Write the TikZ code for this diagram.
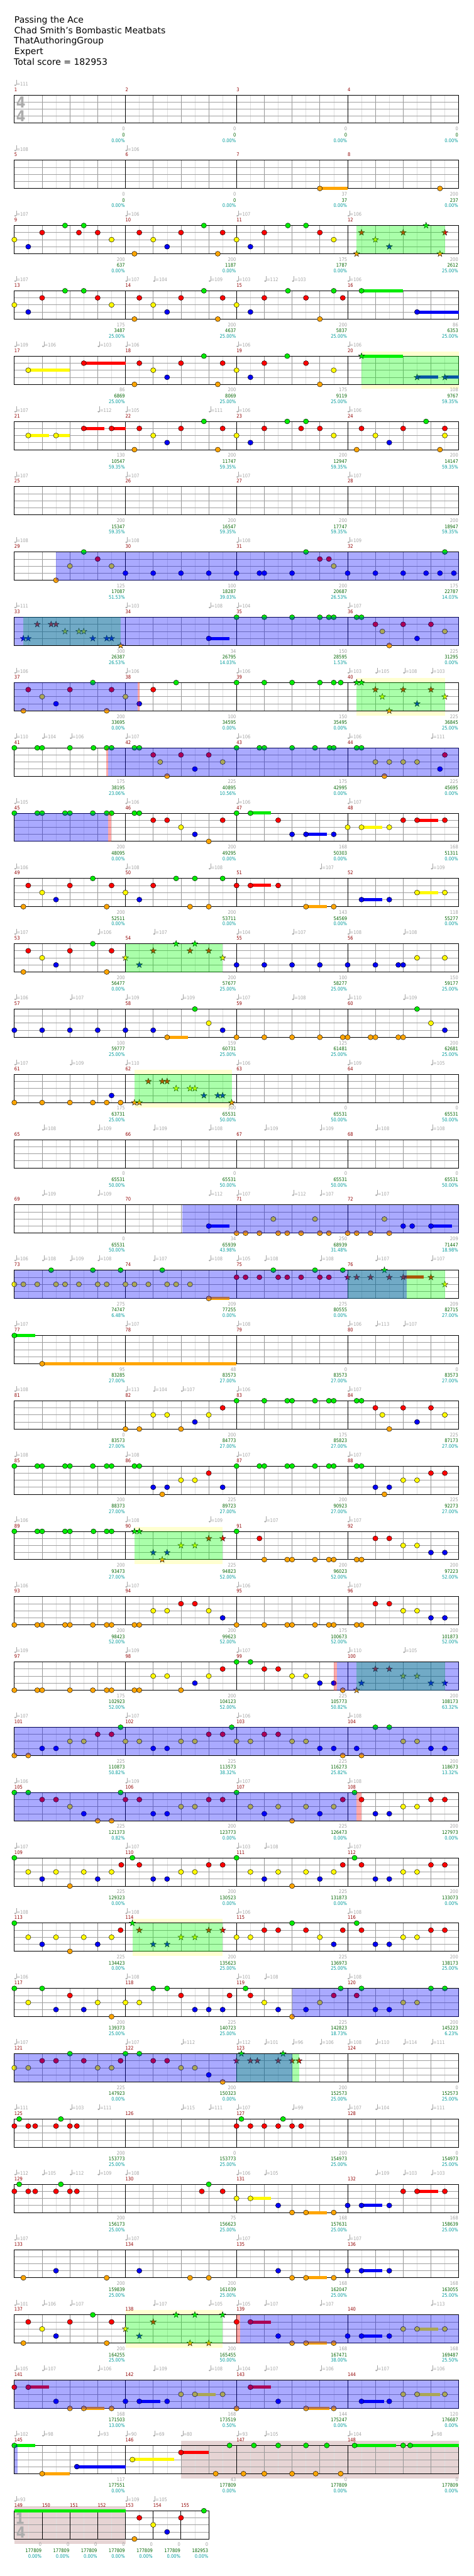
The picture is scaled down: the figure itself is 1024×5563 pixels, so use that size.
\documentclass[tikz,border=0pt]{standalone}
\usepackage{fontspec}
\setmainfont{DejaVu Sans}
\newfontfamily\condf[FakeStretch=0.87]{DejaVu Sans}
\usepackage{tikz}
\definecolor{lane0}{RGB}{0,235,0}
\definecolor{lane1}{RGB}{255,0,0}
\definecolor{lane2}{RGB}{255,250,0}
\definecolor{lane3}{RGB}{0,0,245}
\definecolor{lane4}{RGB}{255,165,0}
\definecolor{gridsub}{RGB}{222,222,222}
\definecolor{gridbeat}{RGB}{150,150,150}
\definecolor{gridlane}{RGB}{160,160,160}
\definecolor{tempogray}{RGB}{165,165,165}
\definecolor{measred}{RGB}{145,0,0}
\definecolor{scgray}{RGB}{160,160,160}
\definecolor{scgreen}{RGB}{0,100,0}
\definecolor{sccyan}{RGB}{0,155,155}
\definecolor{paley}{RGB}{255,255,208}
\definecolor{rose}{RGB}{230,212,212}
\definecolor{tsgray}{RGB}{172,172,172}
\tikzset{
  note/.style={fill=#1,draw=black,line width=0.6pt},
  subline/.style={draw=gridsub,line width=0.8pt},
  beatline/.style={draw=gridbeat,line width=0.8pt},
  laneline/.style={draw=gridlane,line width=1pt},
  barline/.style={draw=black,line width=1.1pt},
  smalltext/.style={font=\condf\fontsize{10.5}{12}\selectfont,inner sep=0pt},
  tempo/.style={smalltext,text=tempogray,anchor=base west},
  measnum/.style={smalltext,text=measred,anchor=base west},
  scrow/.style={smalltext,anchor=base east},
  headtext/.style={font=\fontsize{19}{23}\selectfont,inner sep=0pt,anchor=base west},
  tsig/.style={font=\condf\bfseries\fontsize{33}{33}\selectfont,text=tsgray,inner sep=0pt},
  overdrive/.style={fill=blue,fill opacity=0.333},
  phrase/.style={fill=green,fill opacity=0.333},
  fillgap/.style={fill=red,fill opacity=0.333}
}
% one row of the chart, origin at the top left of the staff
\newcommand\chartrow[2]{\def\currow{#1}%
  \begin{scope}[shift={(31,{205+141*#1})}]#2\end{scope}}
\newcommand\staffgrid{%
  \foreach \i in {0,...,15} \draw[subline] ({60*\i+30},0) -- ++(0,61);
  \foreach \i in {1,...,15} \draw[beatline] ({60*\i},0) -- ++(0,61);
  \foreach \l in {1,2,3} \draw[laneline] (0,{15.25*\l}) -- (960,{15.25*\l});
  \foreach \i in {1,2,3} \draw[barline] ({240*\i},0) -- ++(0,61);
  \draw[barline] (0,0) rectangle (960,61);
  \foreach \k in {0,...,3}{\pgfmathtruncatemacro\mn{4*\currow+\k+1}
    \node[measnum] (m\mn) at ({240*\k},-8) {\mn};}}
\newcommand\nts[2]{\foreach \p in {#2}{\filldraw[note=lane#1] ({15*\p},{15.25*#1}) circle[x radius=5.6pt,y radius=5.4pt];}}
\newcommand\sts[2]{\foreach \p in {#2}{\filldraw[note=lane#1,line width=0.5pt] ({15*\p},{15.25*#1})
  +(90:7pt) -- +(126:2.8pt) -- +(162:7pt) -- +(198:2.8pt) -- +(234:7pt) -- +(270:2.8pt)
  -- +(306:7pt) -- +(342:2.8pt) -- +(18:7pt) -- +(54:2.8pt) -- cycle;}}
\newcommand\sus[3]{\fill[lane#1] ({15*#2},{15.25*#1-3.4}) rectangle ({15*#3},{15.25*#1+3.4});}
\newcommand\yz[2]{\fill[paley] ({15*#1},-10) rectangle ({15*#2},0);\fill[paley] ({15*#1},61) rectangle ({15*#2},71);}
\newcommand\rz[2]{\fill[rose] ({15*#1},-10) rectangle ({15*#2},71);}
\newcommand\gz[2]{\fill[phrase] ({15*#1},0) rectangle ({15*#2},61);}
\newcommand\bz[2]{\fill[overdrive] ({15*#1},0) rectangle ({15*#2},61);}
\newcommand\pz[2]{\fill[fillgap] ({15*#1},0) rectangle ({15*#2},61);}
\newcommand\tempos[1]{\foreach \p/\v in {#1}{%
  \fill[tempogray] ({15*\p+2},-21) circle[x radius=2.3pt,y radius=1.7pt];
  \draw[tempogray,line width=0.7pt] ({15*\p+4},-21) -- ({15*\p+4},-32);
  \node[tempo] (t\currow-\p) at ({15*\p+4.8},-20) {=\v};}}
\newcommand\scores[2][240]{\foreach \a/\b/\c [count=\k from 1] in {#2}{%
  \node[scrow,text=scgray] (s\currow-\k) at ({#1*\k-1},77) {\a};
  \node[scrow,text=scgreen] (g\currow-\k) at ({#1*\k-1},90) {\b};
  \node[scrow,text=sccyan] (c\currow-\k) at ({#1*\k-1},102) {\c\%};}}

\begin{document}
\begin{tikzpicture}[x=1pt,y=-1pt]
\useasboundingbox (0,0) rectangle (1024,5563);
\fill[white] (0,0) rectangle (1024,5563);
\node[headtext] (title) at (31,49) {Passing the Ace};
\node[headtext] (artist) at (31,72) {Chad Smith's Bombastic Meatbats};
\node[headtext] (author) at (30,95) {ThatAuthoringGroup};
\node[headtext] (level) at (31,118) {Expert};
\node[headtext] (total) at (30,141) {Total score = 182953};

\chartrow{0}{\staffgrid
  \node[tsig] (tsa) at (14,16) {4};\node[tsig] (tsb) at (14,46) {4};
  \tempos{0/111}
  \scores{0/0/0.00,0/0/0.00,0/0/0.00,0/0/0.00}}
\chartrow{1}{\staffgrid
  \sus{4}{44}{48}\nts{4}{44,61.3}
  \tempos{0/108,16/106}
  \scores{0/0/0.00,0/0/0.00,37/37/0.00,200/237/0.00}}
\chartrow{2}{\staffgrid
  \nts{0}{7.3,10,27.3,39.4,42}\nts{1}{4,9.3,12,18,24,30,36,44}\nts{2}{0,14,20,32,46}
  \nts{3}{2,22,34}\nts{4}{17.3,29.3}
  \sts{0}{59.3}\sts{1}{50,56,62}\sts{2}{52}\sts{3}{54}\sts{4}{49.3,61.3}
  \gz{49.3}{62}
  \tempos{0/107,16/106,32/107,48/106}
  \scores{200/637/0.00,200/1187/0.00,175/1787/0.00,200/2612/25.00}}
\chartrow{3}{\staffgrid
  \sus{0}{50}{56}\sus{3}{58}{64}
  \nts{0}{7.3,10,27.3,39.4,46,50}\nts{1}{4,12,18,24,30,36,42,47.3}\nts{2}{0,14,20,32}
  \nts{3}{2,22,34,58}\nts{4}{17.3,29.3,44}
  \tempos{0/107,16/107,20/104,28/109,32/103,36/112,40/103,48/106}
  \scores{175/3487/25.00,200/4637/25.00,200/5837/25.00,86/6353/25.00}}
\chartrow{4}{\yz{50}{64}\staffgrid
  \sus{2}{2}{8}\sus{1}{10}{16}\sus{0}{50}{56}\sus{3}{58}{61}\sus{3}{62}{64}
  \nts{2}{2,20,32,46}\nts{1}{10,18,24,30,36,42}\nts{3}{22,34}\nts{4}{17.3,29.3,44}\nts{0}{27.3,39.3}
  \sts{0}{50}\sts{3}{58,62}
  \gz{50}{64}
  \tempos{0/109,4/106,12/103,16/106,32/106,48/106}
  \scores{86/6869/25.00,200/8069/25.00,175/9119/25.00,108/9767/59.35}}
\chartrow{5}{\staffgrid
  \sus{2}{2}{5}\sus{2}{6}{8}\sus{1}{10}{13}\sus{1}{14}{16}
  \nts{2}{2,6,20,32,46,52,62}\nts{1}{10,14,18,24,30,36,41.3,44,50,56,62}
  \nts{0}{27.3,39.3,42,59.3}\nts{3}{22,34,54}\nts{4}{17.3,29.3,49.3,61.3}
  \tempos{0/107,12/112,16/105,28/111,32/106,48/106}
  \scores{130/10547/59.35,200/11747/59.35,200/12947/59.35,200/14147/59.35}}
\chartrow{6}{\staffgrid
  \tempos{0/107,16/107,32/107,48/107}
  \scores{200/15347/59.35,200/16547/59.35,200/17747/59.35,200/18947/59.35}}
\chartrow{7}{\staffgrid
  \nts{4}{6}\nts{0}{10,42,62}\nts{1}{12,44,45.3}\nts{2}{8,14,46}
  \nts{3}{16,20,24,28,32,35.3,36,40,48,52,56,59.3,61.3,63.3}
  \bz{6}{64}
  \tempos{0/108,16/108,32/108,48/109}
  \scores{125/17087/51.53,100/18287/39.03,200/20687/26.53,175/22787/14.03}}
\chartrow{8}{\staffgrid
  \sus{3}{28}{31}
  \sts{1}{3.3,5.3,6}\sts{2}{7.3,9.3,10}\sts{3}{1.3,2,11.3,13.3,14}\sts{4}{15.3}
  \nts{3}{28,58}\nts{0}{32,36,40,44,45.3,46,49.3,50}\nts{1}{52,56,60}\nts{2}{53,62}\nts{4}{54}
  \gz{1.3}{15.3}\bz{0}{64}
  \tempos{0/111,16/103,28/108,32/104,48/107}
  \scores{300/26387/26.53,34/26795/14.03,150/28595/1.53,225/31295/0.00}}
\chartrow{9}{\yz{49.3}{62}\staffgrid
  \nts{0}{11.3,23.3,32,36,40,44,46,47}\nts{1}{2,8,14,20}\nts{2}{4,16}\nts{3}{6,18}\nts{4}{1.3,13.3}
  \sts{0}{49.3,50}\sts{1}{52,56,60}\sts{2}{53,62}\sts{3}{58}\sts{4}{54}
  \gz{49.3}{62}\bz{0}{17.8}\pz{17.8}{18}
  \tempos{0/106,16/106,32/106,48/103,52/105,56/108,60/103}
  \scores{200/33695/0.00,100/34595/0.00,150/35495/0.00,225/36845/25.00}}
\chartrow{10}{\staffgrid
  \nts{0}{0,3.3,4,8,11.4,13.3,14,17.3,18,32,35.3,36,40,43.3,45.4,46,49.3,50}
  \nts{1}{20,24,28,62}\nts{2}{21,30,52,54,56,58}\nts{3}{26,61.3}\nts{4}{22,53.3}
  \pz{13.2}{13.5}\bz{13.5}{64}
  \tempos{0/110,4/104,8/106,16/107,32/106,48/106,60/111}
  \scores{175/38195/23.06,225/40895/10.56,175/42995/0.00,225/45695/0.00}}
\chartrow{11}{\staffgrid
  \sus{0}{34}{37}\sus{1}{58}{61}\sus{2}{50}{53}\sus{3}{42}{45}
  \nts{0}{0,3.3,4,7.3,8,11.3,13.3,14,17.3,18,32,34}
  \nts{1}{20,22,30,38,56,58,62}\nts{2}{24,48,50,54}\nts{3}{26,40,42,46}\nts{4}{28}
  \bz{0}{13.5}\pz{13.5}{14}
  \tempos{0/105,16/106,32/106,48/107}
  \scores{200/48095/0.00,200/49295/0.00,168/50303/0.00,168/51311/0.00}}
\chartrow{12}{\staffgrid
  \sus{1}{34}{37}\sus{2}{58}{61}\sus{3}{50}{53}\sus{4}{42}{45}
  \nts{0}{11.3,23.3,26,30}\nts{1}{2,8,14,20,32,34,38}\nts{2}{4,16,58,62}
  \nts{3}{6,18,50,54}\nts{4}{1.3,13.3,25.3,28,42,46}
  \tempos{0/106,16/108,28/108,44/107,60/109}
  \scores{200/52511/0.00,200/53711/0.00,143/54569/0.00,118/55277/0.00}}
\chartrow{13}{\staffgrid
  \nts{1}{2,8,14}\nts{2}{4,58,62}\nts{3}{6,32,36,40,44,48,52,55.3,56}\nts{4}{1.3,13.3}\nts{0}{11.3}
  \sts{2}{16,30}\sts{3}{18}\sts{1}{20,25.3,28}\sts{0}{23.3,26}
  \gz{16}{30}
  \tempos{0/107,12/106,20/107,32/104,40/107,48/108,56/108}
  \scores{200/56477/0.00,200/57677/25.00,100/58277/25.00,150/59177/25.00}}
\chartrow{14}{\staffgrid
  \sus{4}{22}{25}
  \nts{3}{0,4,8,12,16,20,30,62}\nts{4}{22,32,36,40,44,47.3,48,51.3,52,55.3,56}
  \nts{0}{26,58}\nts{2}{28,60}
  \tempos{0/106,8/107,16/109,24/109,32/107,40/108,48/110,56/109}
  \scores{100/59777/25.00,159/60731/25.00,125/61481/25.00,200/62681/25.00}}
\chartrow{15}{\yz{17.3}{31.3}\staffgrid
  \nts{4}{0,4,8,11.3,13.3,15.3}\nts{3}{14}
  \sts{4}{17.3,18,31.3}\sts{1}{19.3,21.3,22}\sts{2}{23.3,25.3,26}\sts{3}{27.3,29.3,30}
  \gz{17.3}{31.3}
  \tempos{0/107,8/109,16/110,32/106,48/109,60/105}
  \scores{175/63731/25.00,300/65531/50.00,0/65531/50.00,0/65531/50.00}}
\chartrow{16}{\staffgrid
  \tempos{4/108,12/109,20/109,28/108,36/109,44/109,52/108,60/108}
  \scores{0/65531/50.00,0/65531/50.00,0/65531/50.00,0/65531/50.00}}
\chartrow{17}{\staffgrid
  \sus{3}{28}{31}\sus{3}{60}{63}
  \nts{3}{28,56,57.3,60}\nts{2}{37.3,43.3,53.3}
  \nts{4}{32,33.3,35.3,38,39.3,41.3,44,45.3,48,49.3,51.3,54}
  \bz{24.2}{64}
  \tempos{4/109,12/109,28/112,32/107,40/112,44/107,52/107}
  \scores{0/65531/50.00,34/65939/43.98,250/68939/31.48,209/71447/18.98}}
\chartrow{18}{\staffgrid
  \sus{4}{28}{31}\sus{1}{56}{59}
  \nts{2}{0,1.3,3.3,6,7.3,9.3,12,13.3,16,17.3,19.3,22,23.3,25.3}
  \nts{0}{5.3,11.3,15.3,21.3,37.3,43.3,47.3}\nts{4}{28}
  \nts{1}{32,33.3,35.3,38,39.3,41.3,44,45.3}
  \sts{1}{48,49.3,51.3,54,56,60}\sts{0}{53.3}\sts{2}{62}
  \gz{48}{62}\bz{0}{56.5}
  \tempos{0/106,4/108,8/109,12/108,20/107,28/108,32/105,36/108,44/108,52/107,60/107}
  \scores{275/74747/6.48,209/77255/0.00,275/80555/0.00,209/82715/27.00}}
\chartrow{19}{\staffgrid
  \sus{0}{0}{3}\sus{4}{4}{32}\nts{0}{0}\nts{4}{4}
  \tempos{0/107,16/107,32/108,48/106,52/113,56/107}
  \scores{95/83285/27.00,48/83573/27.00,0/83573/27.00,0/83573/27.00}}
\chartrow{20}{\staffgrid
  \nts{4}{16,18,24,54}\nts{2}{20,22,28,53,62}\nts{3}{26,58}\nts{1}{30,52,56,60}
  \nts{0}{32,36,39.3,40,43.3,45.3,46,49.3,50}
  \tempos{0/108,16/113,20/104,24/107,32/106,48/107}
  \scores{0/83573/27.00,200/84773/27.00,175/85823/27.00,225/87173/27.00}}
\chartrow{21}{\staffgrid
  \nts{0}{0,3.3,4,7.3,8,11.3,13.3,14,17.3,18,32,35.3,36,39.3,40,43.3,45.3,46,49.3,50}
  \nts{1}{28,60,62}\nts{2}{24,26,56,58}\nts{3}{20,22,30,52,54}\nts{4}{21.3,53.3}
  \tempos{0/108,16/108,32/107,48/107}
  \scores{200/88373/27.00,225/89723/27.00,200/90923/27.00,225/92273/27.00}}
\chartrow{22}{\yz{17.3}{30}\staffgrid
  \nts{0}{0,3.3,4,7.3,8,11.4,13.3,14,32}
  \sts{0}{17.3,18}\sts{3}{20,22}\sts{4}{21.3}\sts{2}{24,26}\sts{1}{28,30}
  \nts{1}{35.3,52,54}\nts{4}{36,39.3,40,43.3,45.3,46,49.3,50}\nts{2}{56,58}\nts{3}{60,62}
  \gz{17.3}{30}
  \tempos{0/106,16/108,28/109,36/107,48/107}
  \scores{200/93473/27.00,225/94823/52.00,200/96023/52.00,200/97223/52.00}}
\chartrow{23}{\staffgrid
  \nts{4}{0,3.3,4,7.3,8,11.3,13.3,14,17.3,18,32,36,39.3,40,43.3,45.3,46,49.3,50}
  \nts{2}{20,22,28,56,58}\nts{1}{24,26,52,54}\nts{3}{30,60,62}
  \tempos{0/106,16/107,32/106,48/107}
  \scores{200/98423/52.00,200/99623/52.00,175/100673/52.00,200/101873/52.00}}
\chartrow{24}{\staffgrid
  \nts{4}{0,3.3,4,8,11.3,13.3,14,17.3,18,24,47.3}\nts{2}{20,22,28,40,42}\nts{3}{26,44,46}
  \nts{1}{30,36,38}\nts{0}{32,34}
  \sts{4}{49.3}\sts{3}{50,60,62}\sts{1}{52,54}\sts{2}{56,58}
  \gz{49.3}{62}\pz{46}{46.5}\bz{46.5}{64}
  \tempos{0/109,16/109,32/107,48/110,56/105}
  \scores{175/102923/52.00,200/104123/52.00,225/105773/50.82,200/108173/63.32}}
\chartrow{25}{\staffgrid
  \nts{4}{0,2,47.3,50}\nts{3}{4,6,20,22,44,46,49.3,60,62}
  \nts{2}{8,10,16,18,24,26,32,34,40,42,56,58}\nts{1}{12,14,28,30,36,38}\nts{0}{15.3,31.3,52,54}
  \bz{0}{64}
  \tempos{0/107,16/107,32/106,48/108}
  \scores{225/110873/50.82,225/113573/38.32,225/116273/25.82,200/118673/13.32}}
\chartrow{26}{\staffgrid
  \nts{0}{0,2,15.3,32,49}\nts{1}{4,6,16,18,28,30,47.3,50,60,62}
  \nts{2}{8,24,26,34,38,42,46,56,58}\nts{3}{10,20,22,36,44,52,54}\nts{4}{12,14,40}
  \bz{0}{49.3}\pz{49.3}{50}
  \tempos{0/106,16/109,32/107,48/108}
  \scores{225/121373/0.82,200/123773/0.00,225/126473/0.00,200/127973/0.00}}
\chartrow{27}{\staffgrid
  \nts{0}{0,17,32,49}\nts{2}{2,6,10,14,24,26,34,38,42,46,56,58}
  \nts{3}{4,12,20,22,36,44,52,54}\nts{4}{8,40}\nts{1}{15.4,18,28,30,47.3,50,60,62}
  \tempos{0/107,16/107,32/103,36/108,48/107}
  \scores{225/129323/0.00,200/130523/0.00,225/131873/0.00,200/133073/0.00}}
\chartrow{28}{\yz{17}{30}\staffgrid
  \nts{0}{0,40,49.3}\nts{2}{2,6,10,14,32,34,44,56,58}\nts{3}{4,12,46,52,54}\nts{4}{8}
  \nts{1}{15.3,36,38,42,47.3,50,60,62}
  \sts{0}{17}\sts{1}{18,28,30}\sts{3}{20,22}\sts{2}{24,26}
  \gz{17}{30}
  \tempos{0/108,16/108,32/106,48/108}
  \scores{225/134423/0.00,200/135623/25.00,225/136973/25.00,200/138173/25.00}}
\chartrow{29}{\staffgrid
  \nts{0}{0,4,20,22,33.3,47,50,60,62}\nts{1}{8,24,31,34,46,49.3}\nts{2}{2,12,16,18,36,44,56,58}
  \nts{3}{6,10,26,28,30,38,42,52,54}\nts{4}{14,40}
  \bz{40}{64}
  \tempos{0/106,16/108,32/101,36/108,48/108}
  \scores{200/139373/25.00,225/140723/25.00,225/142823/18.73,200/145223/6.23}}
\chartrow{30}{\staffgrid
  \nts{2}{0,2,12,14,24,26}\nts{1}{4,6,10,15.3,20,22}\nts{0}{8,16,18}\nts{3}{28}\nts{4}{30}
  \sts{0}{32.7,38.7}\sts{1}{32,34,35,38,40,41}
  \gz{32}{41}\bz{0}{40}
  \tempos{0/107,16/107,24/112,32/112,36/101,40/96,44/106,48/108,52/110,56/114,60/111}
  \scores{225/147923/0.00,200/150323/0.00,200/152573/25.00,0/152573/25.00}}
\chartrow{31}{\staffgrid
  \nts{1}{0,2,3,6,8,9,32,34,36,38,40,41.3}\nts{0}{0.7,6.7,32.7,38.7}
  \tempos{0/111,8/103,12/111,24/115,28/111,32/107,40/99,48/107,52/104,60/111}
  \scores{200/153773/25.00,0/153773/25.00,200/154973/25.00,0/154973/25.00}}
\chartrow{32}{\staffgrid
  \sus{1}{58}{61}\sus{2}{34}{37}\sus{3}{50}{53}\sus{4}{42}{45}
  \nts{1}{0,2,3,6,8,9,27,30,56,58,62}\nts{0}{0.7,6.7,28}\nts{2}{32,34}\nts{3}{38,48,50,54}\nts{4}{40,42,46}
  \tempos{0/112,4/105,8/112,12/109,16/108,32/106,36/105,52/109,56/103,60/103}
  \scores{200/156173/25.00,75/156623/25.00,168/157631/25.00,168/158639/25.00}}
\chartrow{33}{\staffgrid
  \sus{3}{50}{53}\sus{4}{42}{45}
  \nts{3}{6,18,38,48,50,54}\nts{4}{1.3,13.3,25.3,28,40,42,46}
  \tempos{0/107,16/107,32/107,48/107}
  \scores{200/159839/25.00,200/161039/25.00,168/162047/25.00,168/163055/25.00}}
\chartrow{34}{\yz{16}{30}\staffgrid
  \sus{1}{34}{37}\sus{3}{50}{53}\sus{2}{58}{61}\sus{4}{42}{45}
  \nts{1}{2,8,14,32,34}\nts{2}{4,56,58,62}\nts{3}{6,38,48,50,54}\nts{4}{1.3,13.3,40,42,46}\nts{0}{11.3}
  \sts{2}{16}\sts{3}{18}\sts{1}{20}\sts{0}{23.3,26,30}\sts{4}{25.3,28}
  \gz{16}{30}\pz{32}{32.5}\bz{32.5}{64}
  \tempos{0/101,4/106,8/107,20/107,28/105,32/105,36/107,44/107,60/113}
  \scores{200/164255/25.00,200/165455/50.00,168/167471/38.00,168/169487/25.50}}
\chartrow{35}{\staffgrid
  \sus{1}{2}{5}\sus{1}{34}{37}\sus{2}{26}{29}\sus{2}{58}{61.3}\sus{3}{18}{21}\sus{3}{50}{53.3}
  \sus{4}{10}{13}\sus{4}{42}{45.4}
  \nts{1}{0,2,34}\nts{2}{24,26,30,56,58,62}\nts{3}{6,16,18,22,38,50,54}\nts{4}{8,10,14,32,42,46}
  \bz{0}{64}
  \tempos{0/105,4/107,12/106,20/109,28/108,32/104,36/107,44/106,52/107,60/106}
  \scores{168/171503/13.00,168/173519/0.50,144/175247/0.00,120/176687/0.00}}
\chartrow{36}{\rz{24}{64}\staffgrid
  \sus{0}{0}{3}\sus{4}{4}{8}\sus{3}{9}{16}\sus{2}{17}{23}\sus{1}{24}{28}\sus{0}{49}{55}\sus{0}{57}{64}
  \nts{0}{0,31,34.5,38,42,45,49,56,57}\nts{4}{4,29,33,36,40,43.4,47}\nts{3}{9}\nts{2}{17}\nts{1}{24}
  \bz{0}{0.5}
  \tempos{0/102,4/98,12/93,16/90,20/69,24/80,32/93,36/105,48/104,60/98}
  \scores{117/177551/0.00,43/177809/0.00,0/177809/0.00,0/177809/0.00}}
\chartrow{37}{\rz{0}{16}
  \foreach \i in {0,...,6} \draw[subline] ({60*\i+30},0) -- ++(0,61);
  \foreach \l in {1,2,3} \draw[laneline] (0,{15.25*\l}) -- (420,{15.25*\l});
  \foreach \i in {1,...,6} \draw[barline] ({60*\i},0) -- ++(0,61);
  \draw[barline] (0,0) rectangle (420,61);
  \foreach \k in {0,...,6}{\pgfmathtruncatemacro\mn{149+\k}\node[measnum] (m\mn) at ({60*\k},-8) {\mn};}
  \node[tsig] (tsc) at (12,17) {1};\node[tsig] (tsd) at (14,47) {4};
  \sus{0}{0}{16}
  \nts{4}{17.3}\nts{1}{18,24}\nts{2}{20}\nts{3}{22}\nts{0}{27.3}
  \tempos{0/93,16/109,20/105}
  \scores[60]{0/177809/0.00,0/177809/0.00,0/177809/0.00,0/177809/0.00,0/177809/0.00,0/177809/0.00,0/182953/0.00}}
\end{tikzpicture}
\end{document}
